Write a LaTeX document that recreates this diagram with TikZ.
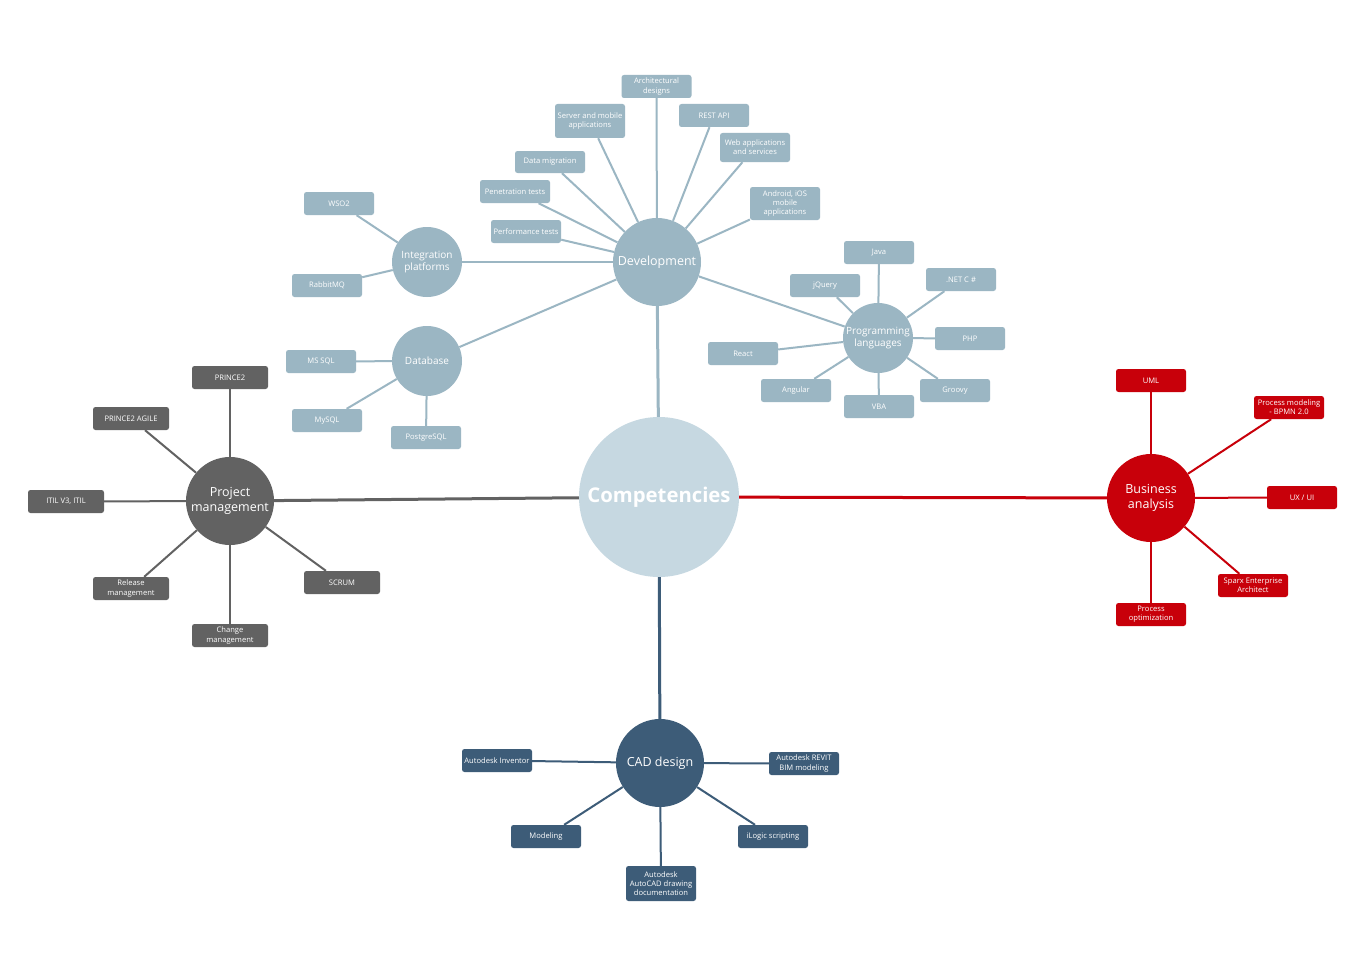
\documentclass[tikz,border=0pt]{standalone}
\usepackage{fontspec}
\setmainfont{Open Sans}
\definecolor{ccomp}{HTML}{C6D8E1}
\definecolor{cdev}{HTML}{9BB6C3}
\definecolor{cpm}{HTML}{626262}
\definecolor{cba}{HTML}{C8000A}
\definecolor{ccad}{HTML}{3D5C78}
\begin{document}
\begin{tikzpicture}[x=1pt,y=-1pt,
  hub/.style={circle, inner sep=0pt, text=white, align=center},
  leaf/.style={rectangle, rounded corners=2.5pt, minimum width=70pt, minimum height=23pt,
    inner sep=1.5pt, text=white, align=center, font=\fontsize{7.6}{9.2}\selectfont},
  big/.style={font=\fontsize{12.5}{15}\selectfont},
  mid/.style={font=\fontsize{10}{12.5}\selectfont},
  devline/.style={draw=cdev, line width=2pt},
  pmline/.style={draw=cpm, line width=2pt},
  baline/.style={draw=cba, line width=2pt},
  cadline/.style={draw=ccad, line width=2pt}]
\fill[white] (0,0) rectangle (1370,971);
\path[use as bounding box] (0,0) rectangle (1370,971);

% hubs
\node[hub, fill=ccomp, minimum size=160pt, font=\bfseries\fontsize{20.3}{24}\selectfont] (comp) at (659,497) {Competencies};
\node[hub, fill=cdev, minimum size=88pt, big] (dev) at (657,262) {Development};
\node[hub, fill=cdev, minimum size=70pt, mid] (integ) at (427,262) {Integration\\platforms};
\node[hub, fill=cdev, minimum size=70pt, mid] (db) at (427,361) {Database};
\node[hub, fill=cdev, minimum size=70pt, mid] (prog) at (878,338) {Programming\\languages};
\node[hub, fill=cpm, minimum size=88pt, big] (pm) at (230,501) {Project\\management};
\node[hub, fill=cba, minimum size=88pt, big] (ba) at (1151,498) {Business\\analysis};
\node[hub, fill=ccad, minimum size=88pt, big] (cad) at (660,763) {CAD design};

% development leaves
\node[leaf, fill=cdev] (arch) at (656.5,86.5) {Architectural\\designs};
\node[leaf, fill=cdev, minimum height=34pt] (serv) at (590,121) {Server and mobile\\applications};
\node[leaf, fill=cdev] (rest) at (714,115.5) {REST API};
\node[leaf, fill=cdev, minimum height=29pt] (web) at (755,147.5) {Web applications\\and services};
\node[leaf, fill=cdev, minimum height=22pt] (datam) at (550,162) {Data migration};
\node[leaf, fill=cdev] (pen) at (515,191.5) {Penetration tests};
\node[leaf, fill=cdev, minimum height=33pt] (andr) at (785,203.5) {Android, iOS\\mobile\\applications};
\node[leaf, fill=cdev] (perf) at (526,231.5) {Performance tests};
% integration leaves
\node[leaf, fill=cdev] (wso) at (339,203.5) {WSO2};
\node[leaf, fill=cdev] (rabbit) at (327,285.5) {RabbitMQ};
% database leaves
\node[leaf, fill=cdev] (mssql) at (321,361.5) {MS SQL};
\node[leaf, fill=cdev] (mysql) at (327,420.5) {MySQL};
\node[leaf, fill=cdev] (pg) at (426,437.5) {PostgreSQL};
% programming leaves
\node[leaf, fill=cdev] (java) at (879,252.5) {Java};
\node[leaf, fill=cdev] (jq) at (825,285.5) {jQuery};
\node[leaf, fill=cdev] (net) at (961,279.5) {.NET C \#};
\node[leaf, fill=cdev] (php) at (970,338.5) {PHP};
\node[leaf, fill=cdev] (react) at (743,353.5) {React};
\node[leaf, fill=cdev] (ang) at (796,390.5) {Angular};
\node[leaf, fill=cdev] (vba) at (879,406.5) {VBA};
\node[leaf, fill=cdev] (groovy) at (955,390.5) {Groovy};
% project management leaves
\node[leaf, fill=cpm, minimum width=76pt] (pr2) at (230,377.5) {PRINCE2};
\node[leaf, fill=cpm, minimum width=76pt] (pr2a) at (131,418.5) {PRINCE2 AGILE};
\node[leaf, fill=cpm, minimum width=76pt] (itil) at (66,501.5) {ITIL V3, ITIL};
\node[leaf, fill=cpm, minimum width=76pt] (rel) at (131,588.5) {Release\\management};
\node[leaf, fill=cpm, minimum width=76pt] (scrum) at (342,582.5) {SCRUM};
\node[leaf, fill=cpm, minimum width=76pt] (chg) at (230,635.5) {Change\\management};
% business analysis leaves
\node[leaf, fill=cba] (uml) at (1151,380.5) {UML};
\node[leaf, fill=cba] (bpmn) at (1289,407.5) {Process modeling\\- BPMN 2.0};
\node[leaf, fill=cba] (ux) at (1302,497.5) {UX / UI};
\node[leaf, fill=cba] (sparx) at (1253,585.5) {Sparx Enterprise\\Architect};
\node[leaf, fill=cba] (popt) at (1151,614.5) {Process\\optimization};
% CAD leaves
\node[leaf, fill=ccad] (inv) at (497,760.5) {Autodesk Inventor};
\node[leaf, fill=ccad] (revit) at (804,763.5) {Autodesk REVIT\\BIM modeling};
\node[leaf, fill=ccad] (model) at (546,836.5) {Modeling};
\node[leaf, fill=ccad] (ilogic) at (773,836.5) {iLogic scripting};
\node[leaf, fill=ccad, minimum height=35pt] (acad) at (661,883.5) {Autodesk\\AutoCAD drawing\\documentation};

% main branches
\draw[devline, line width=3pt] (comp) -- (dev);
\draw[pmline, line width=3pt] (comp) -- (pm);
\draw[baline, line width=3pt] (comp) -- (ba);
\draw[cadline, line width=3pt] (comp) -- (cad);

% development
\foreach \n in {integ,db,prog,arch,serv,rest,web,datam,pen,andr,perf}
  \draw[devline] (dev) -- (\n);
\foreach \n in {wso,rabbit} \draw[devline] (integ) -- (\n);
\foreach \n in {mssql,mysql,pg} \draw[devline] (db) -- (\n);
\foreach \n in {java,jq,net,php,react,ang,vba,groovy} \draw[devline] (prog) -- (\n);
\foreach \n in {pr2,pr2a,itil,rel,scrum,chg} \draw[pmline] (pm) -- (\n);
\foreach \n in {uml,bpmn,ux,sparx,popt} \draw[baline] (ba) -- (\n);
\foreach \n in {inv,revit,model,ilogic,acad} \draw[cadline] (cad) -- (\n);
\end{tikzpicture}
\end{document}
